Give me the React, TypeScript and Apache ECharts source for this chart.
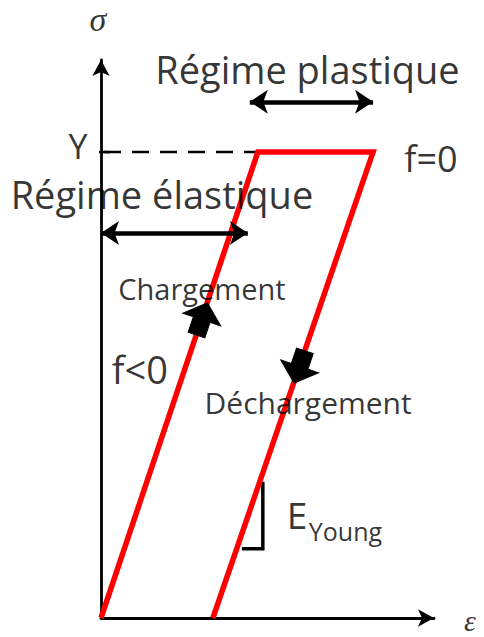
import { useEffect, useRef } from 'react';
import * as echarts from 'echarts';

// Stress-strain path (arbitrary units): loading, plastic flow, unloading
const strainPath = [0, 4.71, 8.17, 3.36];
const stressPath = [0, 8.35, 8.35, 0];
const yieldStress = 8.35;

// Dashed yield level and small tick on the σ axis
const yieldDash = [[0.09, yieldStress], [4.71, yieldStress]];
const yieldTick = [[-0.33, yieldStress], [0.27, yieldStress]];

// Double-headed arrows (regimes)
const plasticArrow = [[4.47, 9.25], [8.17, 9.25]];
const elasticArrow = [[0, 6.9], [4.41, 6.9]];

// Direction arrows on the path: [strain, stress, rotation]
const loadArrow = [3.03, 5.36, -18.6];
const unloadArrow = [5.96, 4.5, 161.4];

// Slope triangle (Young modulus)
const slopeMark = [[4.86, 2.44], [4.86, 1.24], [4.23, 1.24]];

// Annotations: [text, strain, stress, fontSize, italic-serif]
const labels: [string, number, number, number, boolean][] = [
  ['σ', -0.09, 10.73, 34, true],
  ['Régime plastique', 6.2, 9.84, 38, false],
  ['f=0', 9.91, 8.24, 36, false],
  ['Y', -0.69, 8.46, 34, false],
  ['Régime élastique', 1.83, 7.6, 38, false],
  ['Chargement', 3.03, 5.9, 29, false],
  ['f<0', 1.17, 4.46, 38, false],
  ['Déchargement', 6.22, 3.87, 30, false],
  ['E', 5.89, 1.86, 37, false],
  ['Young', 7.34, 1.56, 25, false],
  ['ε', 11.08, -0.04, 30, true],
];

const blockArrow = 'path://M16,0 L32,14 L23,14 L23,27 L9,27 L9,14 L0,14 Z';

export default function App() {
  const ref = useRef<HTMLDivElement>(null);
  useEffect(() => {
    if (!ref.current) return;
    const chart = echarts.init(ref.current, null, { renderer: 'svg' });
    const black = '#000';
    chart.setOption({
      animation: false,
      backgroundColor: '#fff',
      grid: { left: 101, right: 50, top: 60, bottom: 19 },
      xAxis: {
        type: 'value', min: 0, max: 10,
        axisLine: { show: true, lineStyle: { color: black, width: 2.8 }, symbol: ['none', 'arrow'], symbolSize: [13, 16] },
        axisTick: { show: false }, axisLabel: { show: false }, splitLine: { show: false },
      },
      yAxis: {
        type: 'value', min: 0, max: 10,
        axisLine: { show: true, lineStyle: { color: black, width: 2.8 }, symbol: ['none', 'arrow'], symbolSize: [13, 16] },
        axisTick: { show: false }, axisLabel: { show: false }, splitLine: { show: false },
      },
      series: [
        {
          type: 'line', data: yieldDash, symbol: 'none', silent: true,
          lineStyle: { color: black, width: 2.5, type: [17, 11] }, z: 2,
        },
        {
          type: 'line', data: yieldTick, symbol: 'none', silent: true, clip: false,
          lineStyle: { color: black, width: 2.5 }, z: 2,
        },
        {
          type: 'line', data: strainPath.map((s, i) => [s, stressPath[i]]), symbol: 'none', silent: true,
          lineStyle: { color: '#ff0000', width: 5.5, join: 'miter' }, z: 3,
        },
        {
          type: 'line', data: slopeMark, symbol: 'none', silent: true,
          lineStyle: { color: black, width: 3.5, join: 'miter' }, z: 2,
        },
        {
          type: 'lines', coordinateSystem: 'cartesian2d', silent: true,
          symbol: ['arrow', 'arrow'], symbolSize: 18,
          lineStyle: { color: black, width: 4.5, opacity: 1 },
          data: [{ coords: plasticArrow }, { coords: elasticArrow }], z: 4,
        },
        {
          type: 'scatter', silent: true, clip: false, z: 5,
          symbol: blockArrow, symbolSize: [40, 34],
          itemStyle: { color: black, opacity: 1, borderColor: black, borderWidth: 1 },
          data: [loadArrow, unloadArrow].map((a) => ({ value: [a[0], a[1]], symbolRotate: a[2] })),
        },
        {
          type: 'scatter', silent: true, clip: false, z: 6, symbolSize: 0,
          data: labels.map(([t, x, y, fs, it]) => ({
            value: [x, y],
            label: {
              show: true, position: 'inside', formatter: t, color: '#000', fontSize: fs,
              lineHeight: Math.round(fs * 0.82),
              fontFamily: it ? 'Liberation Serif' : 'Open Sans',
              fontStyle: it ? 'italic' : 'normal',
            },
          })),
        },
      ],
    });
    return () => chart.dispose();
  }, []);
  return <div ref={ref} style={{ position: 'absolute', left: 0, top: 0, width: 484, height: 637 }} />;
}
